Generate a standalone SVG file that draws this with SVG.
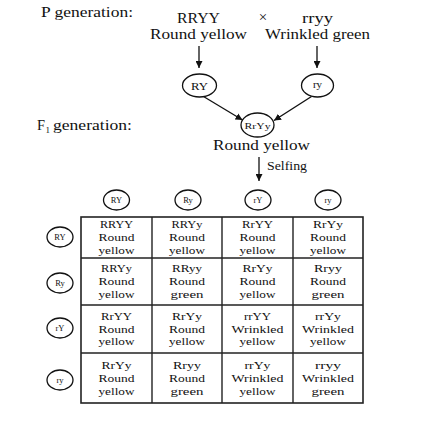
<svg xmlns="http://www.w3.org/2000/svg" width="426" height="421" viewBox="0 0 426 421">
<defs>
<style>
text{font-family:"Liberation Serif","DejaVu Serif",serif;fill:#111}
.h{font-size:15px}
.g{font-size:11px;text-anchor:middle}
.p{font-size:11px;text-anchor:middle}
.cl{font-size:8.5px;text-anchor:middle}
.cm{font-size:11px;text-anchor:middle}
.e{fill:none;stroke:#111;stroke-width:1.3}
.ln{stroke:#111;stroke-width:1.3;fill:none}
.tb{stroke:#222;stroke-width:1.4;fill:none}
</style>
<marker id="ah" viewBox="0 0 10 10" refX="10" refY="5" markerWidth="7" markerHeight="7" orient="auto" markerUnits="userSpaceOnUse">
<path d="M0,0 L10,5 L0,10 z" fill="#111"/>
</marker>
</defs>
<rect width="426" height="421" fill="#fff"/>

<g id="labels">
<text class="h" x="41" y="17" textLength="92" lengthAdjust="spacingAndGlyphs">P generation:</text>
<text class="h" x="37" y="130" textLength="8" lengthAdjust="spacingAndGlyphs">F</text>
<text x="45.5" y="133" style="font-size:9px">1</text>
<text class="h" x="53" y="130" textLength="79" lengthAdjust="spacingAndGlyphs">generation:</text>
</g>

<g id="parent1">
<text class="h" x="177" y="23" textLength="43" lengthAdjust="spacingAndGlyphs">RRYY</text>
<text class="h" x="150" y="39" textLength="97" lengthAdjust="spacingAndGlyphs">Round yellow</text>
</g>
<g id="cross"><text class="h" x="263" y="22" text-anchor="middle">×</text></g>
<g id="parent2">
<text class="h" x="302" y="22.5" textLength="31" lengthAdjust="spacingAndGlyphs">rryy</text>
<text class="h" x="265" y="39" textLength="105" lengthAdjust="spacingAndGlyphs">Wrinkled green</text>
</g>

<g id="gamete-RY">
<ellipse class="e" cx="199.5" cy="85.5" rx="17" ry="11.5"/>
<text class="cm" x="199.5" y="89.5" textLength="17" lengthAdjust="spacingAndGlyphs">RY</text>
</g>
<g id="gamete-ry">
<ellipse class="e" cx="317.5" cy="85.5" rx="16" ry="11.5"/>
<text class="cm" x="317.5" y="88">ry</text>
</g>

<g id="f1">
<ellipse class="e" cx="257.5" cy="125" rx="16.5" ry="12"/>
<text x="257.5" y="128.5" style="font-size:9px;text-anchor:middle" textLength="26" lengthAdjust="spacingAndGlyphs">RrYy</text>
<text class="h" x="213" y="150" textLength="97" lengthAdjust="spacingAndGlyphs">Round yellow</text>
<text x="267" y="170" style="font-size:13px" textLength="40" lengthAdjust="spacingAndGlyphs">Selfing</text>
</g>

<g id="connectors">
<line class="ln" x1="199" y1="46" x2="199" y2="68" marker-end="url(#ah)"/>
<line class="ln" x1="317" y1="46" x2="317" y2="68" marker-end="url(#ah)"/>
<line class="ln" x1="203.5" y1="96.5" x2="242.5" y2="120" marker-end="url(#ah)"/>
<line class="ln" x1="311.5" y1="96.5" x2="274" y2="120.5" marker-end="url(#ah)"/>
<line class="ln" x1="259" y1="157" x2="259" y2="181" marker-end="url(#ah)"/>
</g>

<g id="col-gametes">
<g id="col-RY"><ellipse class="e" cx="116.5" cy="200" rx="13" ry="10"/><text class="cl" x="116.5" y="203">RY</text></g>
<g id="col-Ry"><ellipse class="e" cx="188" cy="200" rx="13" ry="10"/><text class="cl" x="188" y="203">Ry</text></g>
<g id="col-rY"><ellipse class="e" cx="258" cy="200" rx="13" ry="10"/><text class="cl" x="258" y="203">rY</text></g>
<g id="col-ry"><ellipse class="e" cx="328" cy="200" rx="13" ry="10"/><text class="cl" x="328" y="203">ry</text></g>
</g>

<g id="row-gametes">
<g id="row-RY"><ellipse class="e" cx="60" cy="237" rx="13" ry="10"/><text class="cl" x="60" y="240">RY</text></g>
<g id="row-Ry"><ellipse class="e" cx="60" cy="283" rx="13" ry="10"/><text class="cl" x="60" y="286">Ry</text></g>
<g id="row-rY"><ellipse class="e" cx="60" cy="328" rx="13" ry="10"/><text class="cl" x="60" y="331">rY</text></g>
<g id="row-ry"><ellipse class="e" cx="60" cy="380" rx="13" ry="10"/><text class="cl" x="60" y="383">ry</text></g>
</g>

<g id="table">
<rect class="tb" x="81" y="217" width="282" height="186" style="stroke-width:1.6"/>
<line class="tb" x1="152" y1="217" x2="152" y2="403"/>
<line class="tb" x1="222" y1="217" x2="222" y2="403"/>
<line class="tb" x1="293" y1="217" x2="293" y2="403"/>
<line class="tb" x1="81" y1="258" x2="363" y2="258"/>
<line class="tb" x1="81" y1="305" x2="363" y2="305"/>
<line class="tb" x1="81" y1="353" x2="363" y2="353"/>
</g>

<g id="cells">
<g id="r1">
<text class="g" x="116.5" y="228" textLength="33" lengthAdjust="spacingAndGlyphs">RRYY</text><text class="p" x="116.5" y="241" textLength="36" lengthAdjust="spacingAndGlyphs">Round</text><text class="p" x="116.5" y="254" textLength="36" lengthAdjust="spacingAndGlyphs">yellow</text>
<text class="g" x="187" y="228" textLength="31" lengthAdjust="spacingAndGlyphs">RRYy</text><text class="p" x="187" y="241" textLength="36" lengthAdjust="spacingAndGlyphs">Round</text><text class="p" x="187" y="254" textLength="36" lengthAdjust="spacingAndGlyphs">yellow</text>
<text class="g" x="257.5" y="228" textLength="31" lengthAdjust="spacingAndGlyphs">RrYY</text><text class="p" x="257.5" y="241" textLength="36" lengthAdjust="spacingAndGlyphs">Round</text><text class="p" x="257.5" y="254" textLength="36" lengthAdjust="spacingAndGlyphs">yellow</text>
<text class="g" x="328" y="228" textLength="30" lengthAdjust="spacingAndGlyphs">RrYy</text><text class="p" x="328" y="241" textLength="36" lengthAdjust="spacingAndGlyphs">Round</text><text class="p" x="328" y="254" textLength="36" lengthAdjust="spacingAndGlyphs">yellow</text>
</g>
<g id="r2">
<text class="g" x="116.5" y="272" textLength="31" lengthAdjust="spacingAndGlyphs">RRYy</text><text class="p" x="116.5" y="285" textLength="36" lengthAdjust="spacingAndGlyphs">Round</text><text class="p" x="116.5" y="297.5" textLength="36" lengthAdjust="spacingAndGlyphs">yellow</text>
<text class="g" x="187" y="272" textLength="30" lengthAdjust="spacingAndGlyphs">RRyy</text><text class="p" x="187" y="285" textLength="36" lengthAdjust="spacingAndGlyphs">Round</text><text class="p" x="187" y="297.5" textLength="33" lengthAdjust="spacingAndGlyphs">green</text>
<text class="g" x="257.5" y="272" textLength="30" lengthAdjust="spacingAndGlyphs">RrYy</text><text class="p" x="257.5" y="285" textLength="36" lengthAdjust="spacingAndGlyphs">Round</text><text class="p" x="257.5" y="297.5" textLength="36" lengthAdjust="spacingAndGlyphs">yellow</text>
<text class="g" x="328" y="272" textLength="28" lengthAdjust="spacingAndGlyphs">Rryy</text><text class="p" x="328" y="285" textLength="36" lengthAdjust="spacingAndGlyphs">Round</text><text class="p" x="328" y="297.5" textLength="33" lengthAdjust="spacingAndGlyphs">green</text>
</g>
<g id="r3">
<text class="g" x="116.5" y="319.5" textLength="31" lengthAdjust="spacingAndGlyphs">RrYY</text><text class="p" x="116.5" y="332.5" textLength="36" lengthAdjust="spacingAndGlyphs">Round</text><text class="p" x="116.5" y="345" textLength="36" lengthAdjust="spacingAndGlyphs">yellow</text>
<text class="g" x="187" y="319.5" textLength="30" lengthAdjust="spacingAndGlyphs">RrYy</text><text class="p" x="187" y="332.5" textLength="36" lengthAdjust="spacingAndGlyphs">Round</text><text class="p" x="187" y="345" textLength="36" lengthAdjust="spacingAndGlyphs">yellow</text>
<text class="g" x="257.5" y="319.5" textLength="27" lengthAdjust="spacingAndGlyphs">rrYY</text><text class="p" x="257.5" y="332.5" textLength="52" lengthAdjust="spacingAndGlyphs">Wrinkled</text><text class="p" x="257.5" y="345" textLength="36" lengthAdjust="spacingAndGlyphs">yellow</text>
<text class="g" x="328" y="319.5" textLength="26" lengthAdjust="spacingAndGlyphs">rrYy</text><text class="p" x="328" y="332.5" textLength="52" lengthAdjust="spacingAndGlyphs">Wrinkled</text><text class="p" x="328" y="345" textLength="36" lengthAdjust="spacingAndGlyphs">yellow</text>
</g>
<g id="r4">
<text class="g" x="116.5" y="368.5" textLength="30" lengthAdjust="spacingAndGlyphs">RrYy</text><text class="p" x="116.5" y="381.5" textLength="36" lengthAdjust="spacingAndGlyphs">Round</text><text class="p" x="116.5" y="395" textLength="36" lengthAdjust="spacingAndGlyphs">yellow</text>
<text class="g" x="187" y="368.5" textLength="28" lengthAdjust="spacingAndGlyphs">Rryy</text><text class="p" x="187" y="381.5" textLength="36" lengthAdjust="spacingAndGlyphs">Round</text><text class="p" x="187" y="395" textLength="33" lengthAdjust="spacingAndGlyphs">green</text>
<text class="g" x="257.5" y="368.5" textLength="26" lengthAdjust="spacingAndGlyphs">rrYy</text><text class="p" x="257.5" y="381.5" textLength="52" lengthAdjust="spacingAndGlyphs">Wrinkled</text><text class="p" x="257.5" y="395" textLength="36" lengthAdjust="spacingAndGlyphs">yellow</text>
<text class="g" x="328" y="368.5" textLength="26" lengthAdjust="spacingAndGlyphs">rryy</text><text class="p" x="328" y="381.5" textLength="52" lengthAdjust="spacingAndGlyphs">Wrinkled</text><text class="p" x="328" y="395" textLength="33" lengthAdjust="spacingAndGlyphs">green</text>
</g>
</g>
</svg>
